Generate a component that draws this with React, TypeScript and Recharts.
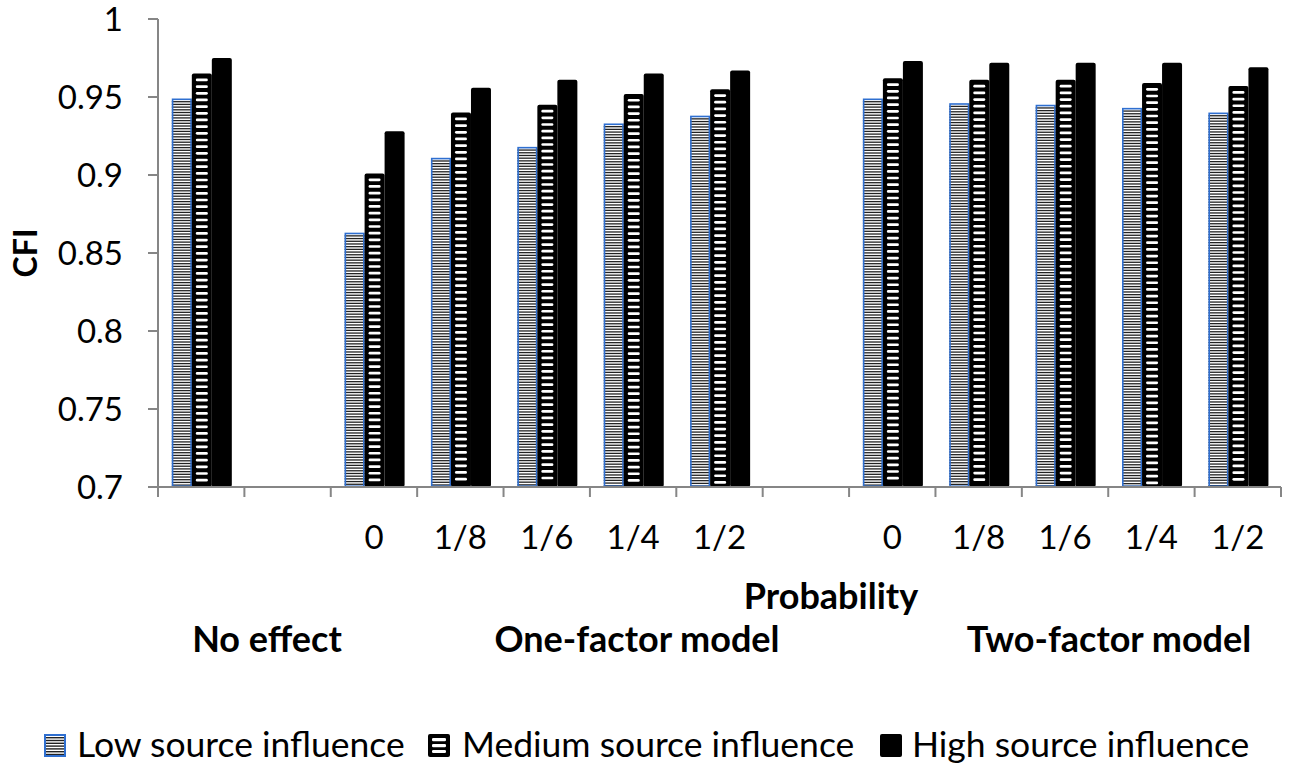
import React from "react";
import { BarChart, Bar, XAxis, YAxis } from "recharts";

const categories = ["", "", "0", "1/8", "1/6", "1/4", "1/2", "", "0", "1/8", "1/6", "1/4", "1/2"];
const lowSource = [0.949, null, 0.863, 0.911, 0.918, 0.933, 0.938, null, 0.949, 0.946, 0.945, 0.943, 0.94];
const mediumSource = [0.965, null, 0.901, 0.94, 0.945, 0.952, 0.955, null, 0.962, 0.961, 0.961, 0.959, 0.957];
const highSource = [0.975, null, 0.928, 0.956, 0.961, 0.965, 0.967, null, 0.973, 0.972, 0.972, 0.972, 0.969];
const yTicks = [0.7, 0.75, 0.8, 0.85, 0.9, 0.95, 1];
const seriesNames = ["Low source influence", "Medium source influence", "High source influence"];
const groupLabels = ["No effect", "One-factor model", "Two-factor model"];

const data = categories.map((c, i) => ({
  cat: c,
  low: lowSource[i],
  medium: mediumSource[i],
  high: highSource[i],
}));

const FONT = "Lato, 'Open Sans', sans-serif";
const W = 1299;
const H = 776;
const PLOT_LEFT = 158;
const PLOT_RIGHT = 1281;
const PLOT_TOP = 19;
const PLOT_BOTTOM = 487;
const X_AXIS_H = 60;
const SLOT = (PLOT_RIGHT - PLOT_LEFT) / categories.length;
const AXIS_COLOR = "#868686";
const BLUE = "#2f6fd0";

function LowShape(p: any) {
  const { x, y, width: w, height: h } = p;
  if (h == null || h <= 0 || w == null) return null;
  const lines: React.ReactNode[] = [];
  let k = 0;
  for (let yy = y + 2.5; yy < y + h - 1; yy += 2.7) {
    lines.push(<rect key={k++} x={x} y={yy} width={w} height={1.3} fill="#222" />);
  }
  return (
    <g>
      <rect x={x} y={y} width={w} height={h} fill="#fff" />
      {lines}
      <rect x={x + 0.75} y={y + 0.75} width={w - 1.5} height={h - 1.5} fill="none" stroke={BLUE} strokeWidth={1.6} />
    </g>
  );
}

function MediumShape(p: any) {
  const { x, y, width: w, height: h } = p;
  if (h == null || h <= 0 || w == null) return null;
  const dashes: React.ReactNode[] = [];
  let k = 0;
  for (let yy = y + 5; yy + 2.7 < y + h - 2; yy += 6.67) {
    dashes.push(<rect key={k++} x={x + 4} y={yy} width={w - 8} height={2.7} rx={1.3} fill="#fff" />);
  }
  return (
    <g>
      <rect x={x} y={y} width={w} height={h} rx={2} fill="#000" />
      {dashes}
    </g>
  );
}

function HighShape(p: any) {
  const { x, y, width: w, height: h } = p;
  if (h == null || h <= 0 || w == null) return null;
  return <rect x={x} y={y} width={w} height={h} rx={2} fill="#000" />;
}

function XTick(p: any) {
  const { x, payload, index } = p;
  const cx = x;
  const lines = [
    <line key="l" x1={cx - SLOT / 2} x2={cx - SLOT / 2} y1={PLOT_BOTTOM} y2={PLOT_BOTTOM + 10} stroke={AXIS_COLOR} strokeWidth={2} />,
  ];
  if (index === categories.length - 1) {
    lines.push(
      <line key="r" x1={cx + SLOT / 2} x2={cx + SLOT / 2} y1={PLOT_BOTTOM} y2={PLOT_BOTTOM + 10} stroke={AXIS_COLOR} strokeWidth={2} />
    );
  }
  return (
    <g>
      {lines}
      <text x={cx} y={549} textAnchor="middle" fontFamily={FONT} fontSize={33} fill="#000">
        {payload.value}
      </text>
    </g>
  );
}

function YTick(p: any) {
  const { x, y, payload } = p;
  return (
    <text x={x} y={y} dy={12} textAnchor="end" fontFamily={FONT} fontSize={33} fill="#000">
      {String(payload.value)}
    </text>
  );
}

function Swatch({ kind, x, y }: { kind: number; x: number; y: number }) {
  const w = 22;
  const h = 23;
  if (kind === 0) {
    const lines = [];
    for (let i = 0; i < 7; i++) lines.push(<rect key={i} x={x + 2} y={y + 3 + i * 2.8} width={w - 4} height={1.4} fill="#222" />);
    return (
      <g>
        <rect x={x} y={y} width={w} height={h} fill="#fff" />
        {lines}
        <rect x={x + 1} y={y + 1} width={w - 2} height={h - 2} fill="none" stroke={BLUE} strokeWidth={2} />
      </g>
    );
  }
  if (kind === 1) {
    return (
      <g>
        <rect x={x} y={y} width={w} height={h} rx={2} fill="#000" />
        <rect x={x + 4} y={y + 4} width={w - 8} height={3.2} rx={1.3} fill="#fff" />
        <rect x={x + 4} y={y + 10} width={w - 8} height={3.2} rx={1.3} fill="#fff" />
        <rect x={x + 4} y={y + 16} width={w - 8} height={3} rx={1.3} fill="#fff" />
      </g>
    );
  }
  return <rect x={x} y={y} width={w} height={h} rx={2} fill="#000" />;
}

const legendSwatchX = [44, 428, 880];
const legendTextX = [77, 462, 912];
const groupLabelX = [267, 637, 1109];

export default function App() {
  return (
    <div style={{ position: "absolute", left: 0, top: 0, width: W, height: H, background: "#fff" }}>
      <BarChart
        width={W}
        height={H}
        data={data}
        margin={{ top: PLOT_TOP, right: W - PLOT_RIGHT, left: 0, bottom: H - PLOT_BOTTOM - X_AXIS_H }}
        barCategoryGap="16%"
        barGap={0}
      >
        <XAxis
          dataKey="cat"
          height={X_AXIS_H}
          axisLine={{ stroke: AXIS_COLOR, strokeWidth: 2 }}
          tickLine={false}
          tick={<XTick />}
          interval={0}
        />
        <YAxis
          width={PLOT_LEFT}
          domain={[0.7, 1]}
          ticks={yTicks}
          allowDataOverflow
          axisLine={{ stroke: AXIS_COLOR, strokeWidth: 2 }}
          tickLine={{ stroke: AXIS_COLOR, strokeWidth: 2 }}
          tickSize={10}
          tickMargin={25}
          tick={<YTick />}
        />
        <Bar dataKey="low" name={seriesNames[0]} isAnimationActive={false} shape={(p: any) => <LowShape {...p} />} />
        <Bar dataKey="medium" name={seriesNames[1]} isAnimationActive={false} shape={(p: any) => <MediumShape {...p} />} />
        <Bar dataKey="high" name={seriesNames[2]} isAnimationActive={false} shape={(p: any) => <HighShape {...p} />} />
      </BarChart>

      <svg
        width={W}
        height={H}
        style={{ position: "absolute", left: 0, top: 0, pointerEvents: "none" }}
        fontFamily={FONT}
      >
        <text transform="translate(24,253) rotate(-90)" textAnchor="middle" dominantBaseline="central" fontSize={32} fontWeight={700} fill="#000">
          CFI
        </text>
        <text x={831} y={609} textAnchor="middle" fontSize={36} fontWeight={700} fill="#000">
          Probability
        </text>
        {groupLabels.map((g, i) => (
          <text key={g} x={groupLabelX[i]} y={652} textAnchor="middle" fontSize={36} fontWeight={700} fill="#000">
            {g}
          </text>
        ))}
        {seriesNames.map((n, i) => (
          <g key={n}>
            <Swatch kind={i} x={legendSwatchX[i]} y={734} />
            <text x={legendTextX[i]} y={757} fontSize={35.5} fill="#000">
              {n}
            </text>
          </g>
        ))}
      </svg>
    </div>
  );
}
